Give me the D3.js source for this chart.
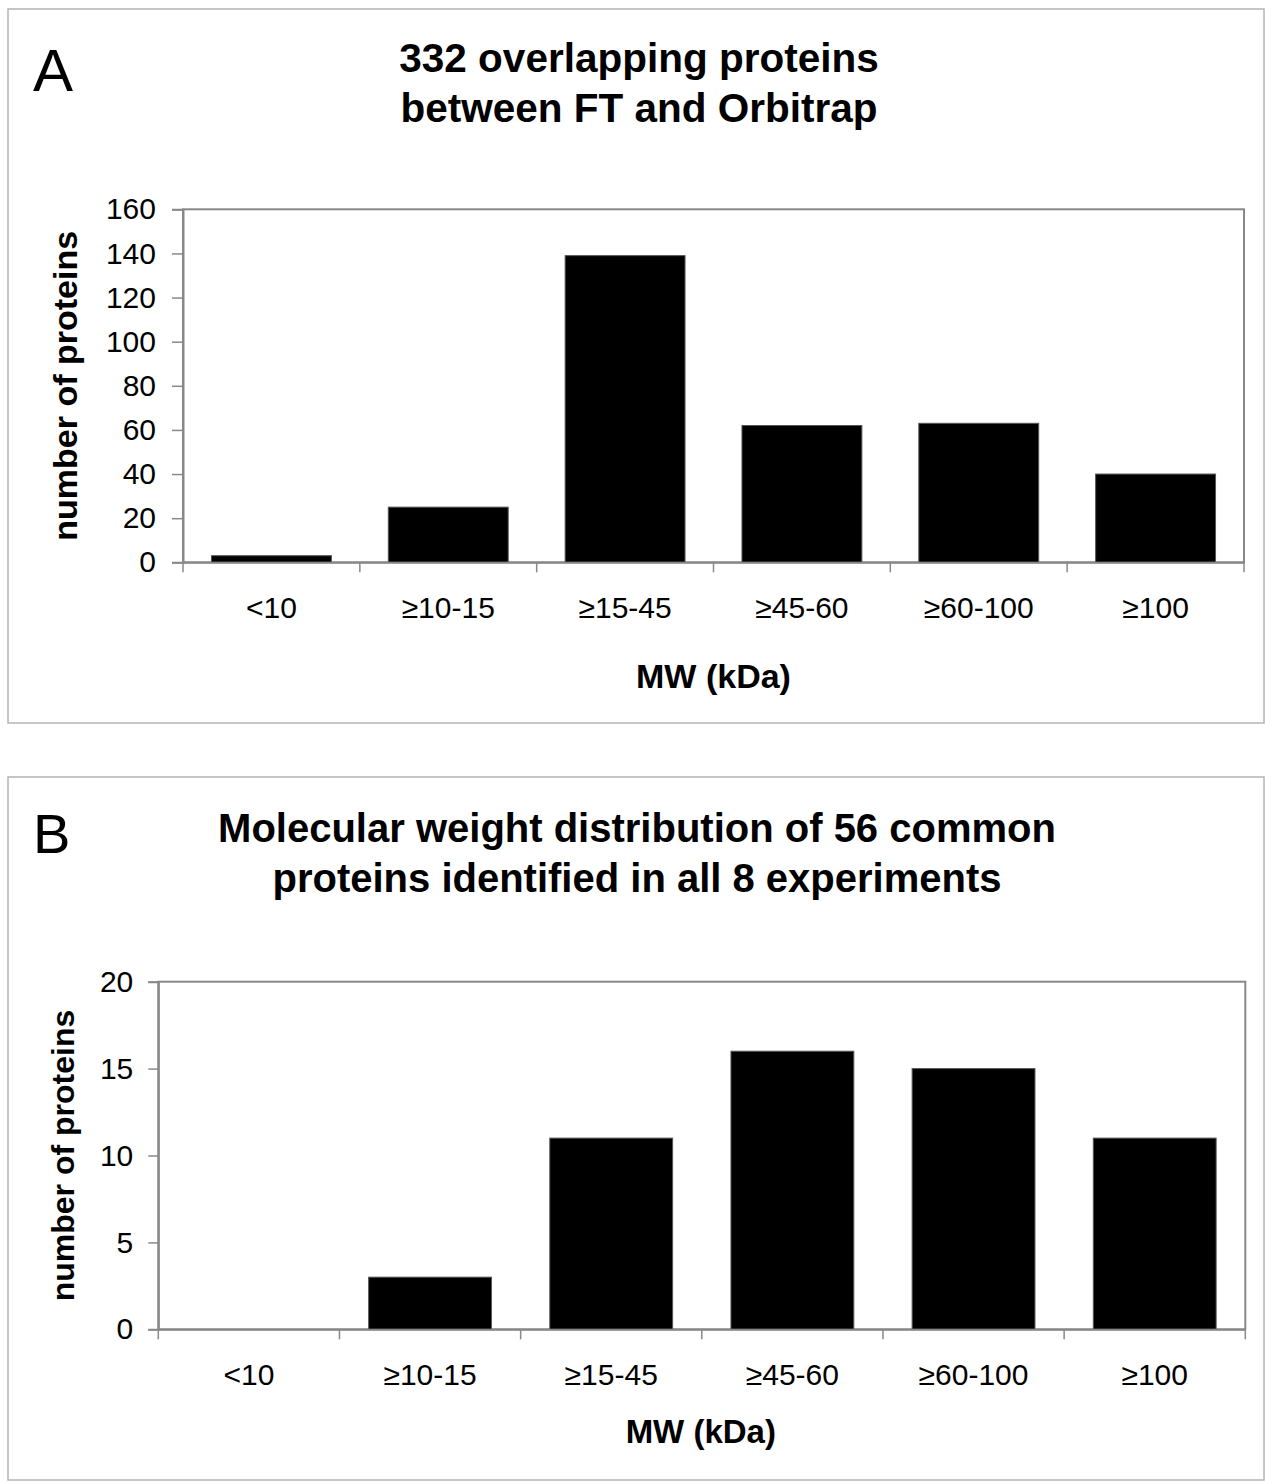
<!DOCTYPE html>
<html>
<head>
<meta charset="utf-8">
<script src="https://cdn.jsdelivr.net/npm/d3@7"></script>
<style>
  html, body { margin: 0; padding: 0; background: #fff; }
  svg { display: block; }
  text { font-family: "Liberation Sans", Arial, Helvetica, sans-serif; fill: #000; }
</style>
</head>
<body>
<svg id="chart" width="1265" height="1483"></svg>
<script>
// ---- Data ----
const categories = ["<10", "\u226510-15", "\u226515-45", "\u226545-60", "\u226560-100", "\u2265100"];
const valuesA = [3, 25, 139, 62, 63, 40];
const valuesB = [0, 3, 11, 16, 15, 11];
const ticksA = [0, 20, 40, 60, 80, 100, 120, 140, 160];
const ticksB = [0, 5, 10, 15, 20];
const titleA = ["332 overlapping proteins", "between FT and Orbitrap"];
const titleB = ["Molecular weight distribution of 56 common", "proteins identified in all 8 experiments"];
const yLabel = "number of proteins";
const xLabel = "MW (kDa)";

const svg = d3.select("#chart");

function panel(cfg) {
  const g = svg.append("g");
  g.append("rect")
    .attr("x", cfg.frame[0]).attr("y", cfg.frame[1])
    .attr("width", cfg.frame[2]).attr("height", cfg.frame[3])
    .attr("fill", "none").attr("stroke", "#b4b4b4").attr("stroke-width", 1.5);

  g.append("text").attr("x", cfg.letterPos[0]).attr("y", cfg.letterPos[1])
    .attr("font-size", cfg.letterSize).text(cfg.letter);

  cfg.title.forEach((t, i) => {
    g.append("text").attr("x", cfg.titleX).attr("y", cfg.titleY + i * 50)
      .attr("text-anchor", "middle").attr("font-size", cfg.titleSize).attr("font-weight", "bold")
      .text(t);
  });

  const x = d3.scaleBand().domain(categories).range([cfg.x0, cfg.x1])
    .paddingInner(0.322).paddingOuter(0.161);
  const y = d3.scaleLinear().domain([0, cfg.ymax]).range([cfg.y1, cfg.y0]);

  g.append("rect")
    .attr("x", cfg.x0).attr("y", cfg.y0)
    .attr("width", cfg.x1 - cfg.x0).attr("height", cfg.y1 - cfg.y0)
    .attr("fill", "none").attr("stroke", "#888").attr("stroke-width", 2);

  g.selectAll("rect.bar").data(cfg.values).join("rect")
    .attr("class", "bar")
    .attr("x", (d, i) => x(categories[i]))
    .attr("width", x.bandwidth())
    .attr("y", d => y(d))
    .attr("height", d => y(0) - y(d))
    .attr("fill", "#000").attr("stroke", "#555").attr("stroke-width", 1);

  const ya = g.append("g").attr("transform", `translate(${cfg.x0},0)`)
    .call(d3.axisLeft(y).tickValues(cfg.ticks).tickSize(cfg.tickLen).tickPadding(cfg.yPad));
  ya.select(".domain").attr("stroke", "#888").attr("stroke-width", 2);
  ya.selectAll(".tick line").attr("stroke", "#888").attr("stroke-width", 1.5);
  ya.selectAll(".tick text").attr("font-size", 30)
    .attr("font-family", "Liberation Sans, Arial, sans-serif").attr("fill", "#000");

  const xa = g.append("g").attr("transform", `translate(0,${cfg.y1})`)
    .call(d3.axisBottom(x).tickSize(0).tickPadding(34.4));
  xa.select(".domain").attr("stroke", "#888").attr("stroke-width", 2);
  xa.selectAll(".tick text").attr("font-size", 30)
    .attr("font-family", "Liberation Sans, Arial, sans-serif").attr("fill", "#000");

  const bounds = d3.range(categories.length + 1).map(i => x.range()[0] + i * x.step());
  g.selectAll("line.bt").data(bounds).join("line")
    .attr("class", "bt")
    .attr("x1", d => d).attr("x2", d => d)
    .attr("y1", cfg.y1).attr("y2", cfg.y1 + 10)
    .attr("stroke", "#888").attr("stroke-width", 1.5);

  g.append("text").attr("x", (cfg.x0 + cfg.x1) / 2 + cfg.xLabelShift).attr("y", cfg.xLabelY)
    .attr("text-anchor", "middle").attr("font-size", cfg.xLabelSize).attr("font-weight", "bold")
    .text(xLabel);
  g.append("text")
    .attr("transform", `translate(${cfg.yLabelX},${(cfg.y0 + cfg.y1) / 2}) rotate(-90)`)
    .attr("text-anchor", "middle").attr("font-size", cfg.yLabelSize).attr("font-weight", "bold")
    .text(yLabel);
}

panel({
  frame: [8, 9, 1256, 714],
  letter: "A", letterPos: [33, 91], letterSize: 60,
  title: titleA, titleX: 639, titleY: 72, titleSize: 40.5,
  x0: 183, x1: 1244, y0: 209.3, y1: 562.3,
  ymax: 160, ticks: ticksA, values: valuesA,
  tickLen: 11, yPad: 16,
  xLabelY: 688, xLabelShift: 0, xLabelSize: 34,
  yLabelX: 77, yLabelSize: 34
});

panel({
  frame: [8, 777, 1256, 703],
  letter: "B", letterPos: [33, 853], letterSize: 56,
  title: titleB, titleX: 637, titleY: 842, titleSize: 40,
  x0: 158.3, x1: 1245.3, y0: 981.7, y1: 1329.3,
  ymax: 20, ticks: ticksB, values: valuesB,
  tickLen: 10, yPad: 15,
  xLabelY: 1443, xLabelShift: -1, xLabelSize: 33,
  yLabelX: 74, yLabelSize: 32
});
</script>
</body>
</html>
